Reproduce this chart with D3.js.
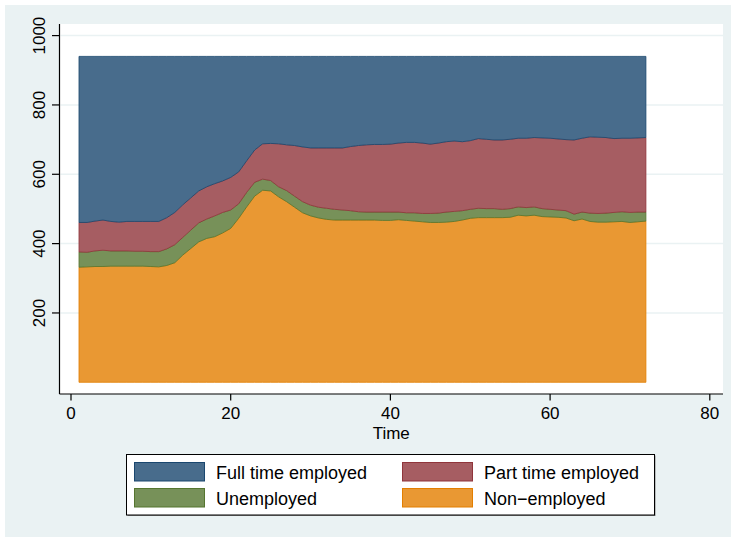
<!DOCTYPE html>
<html><head><meta charset="utf-8">
<script src="https://cdn.jsdelivr.net/npm/d3@7"></script>
<style>html,body{margin:0;padding:0;background:#fff;}svg{display:block;}</style>
</head><body>
<script>
// ---- data (people per state, by time) ----
const time = d3.range(1, 73);
const nonEmployed = [332,333,334,334,335,335,335,335,335,334,333,337,345,367,386,405,415,420,431,444,473,506,537,554,552,535,521,505,489,480,474,470,468,468,468,468,468,468,467,467,469,467,465,463,461,461,462,464,468,473,475,475,475,475,476,482,480,482,478,477,476,474,466,471,464,462,462,463,464,461,463,465];
const unemployed = [44,42,45,47,44,44,44,43,43,43,44,48,52,51,53,55,56,60,59,53,42,42,40,32,30,29,32,32,32,31,31,32,31,29,27,24,23,23,24,24,22,22,24,24,26,27,29,29,27,26,27,26,26,24,25,24,24,24,23,22,21,21,19,20,24,25,26,27,28,29,28,26];
const partTime = [85,86,86,87,85,83,85,86,86,87,87,90,93,94,93,92,93,93,91,94,92,91,93,102,107,124,132,146,158,165,171,174,177,179,185,191,194,195,195,196,199,203,203,203,200,202,203,203,199,198,201,200,198,200,200,198,200,200,204,205,205,205,214,213,220,220,218,213,212,214,214,215];
const fullTime = [479,479,475,472,476,478,476,476,476,476,476,465,450,428,408,388,376,367,359,349,333,301,270,252,251,252,255,257,261,264,264,264,264,264,260,257,255,254,254,253,250,248,248,250,253,250,246,244,246,243,237,239,241,241,239,236,236,234,235,236,238,240,241,236,232,233,234,237,236,236,235,234];
const seriesKeys = ["nonEmployed","unemployed","partTime","fullTime"];
const seriesLabels = {fullTime:"Full time employed", partTime:"Part time employed", unemployed:"Unemployed", nonEmployed:"Non\u2212employed"};
const legendOrder = ["fullTime","partTime","unemployed","nonEmployed"];
const yTicks = [200,400,600,800,1000];
const xTicks = [0,20,40,60,80];

// ---- styles ----
const lineColor = {fullTime:"#1a476f", partTime:"#90353b", unemployed:"#55752f", nonEmployed:"#e37e00"};
const fillColor = {fullTime:"#486c8c", partTime:"#a65d62", unemployed:"#779159", nonEmployed:"#e99833"};
const font = "'Liberation Sans', Arial, Helvetica, sans-serif";

const W = 733, H = 537;
const svg = d3.select("body").append("svg").attr("width", W).attr("height", H);
svg.append("rect").attr("x",5).attr("y",5).attr("width",726).attr("height",532).attr("fill","#eaf2f3");

const plot = {left:59.5, right:723, top:24, bottom:394};
svg.append("rect").attr("x",plot.left).attr("y",plot.top).attr("width",plot.right-plot.left).attr("height",plot.bottom-plot.top).attr("fill","#fff");

const x = d3.scaleLinear().domain([0,80]).range([71, 709.8]);
const y = d3.scaleLinear().domain([0,1000]).range([382.3, 35.6]);

// gridlines
svg.append("g").selectAll("line").data(yTicks).join("line")
  .attr("x1",plot.left+1).attr("x2",plot.right).attr("y1",d=>y(d)).attr("y2",d=>y(d))
  .attr("stroke","#eaf2f3").attr("stroke-width",1.5);

// stacked data
const rows = time.map((t,i)=>({t, nonEmployed:nonEmployed[i], unemployed:unemployed[i], partTime:partTime[i], fullTime:fullTime[i]}));
const stacked = d3.stack().keys(seriesKeys)(rows);
const area = d3.area().x(d=>x(d.data.t)).y0(d=>y(d[0])).y1(d=>y(d[1]));
svg.append("g").selectAll("path").data(stacked).join("path")
  .attr("d", area)
  .attr("fill", d=>fillColor[d.key])
  .attr("stroke", d=>lineColor[d.key]).attr("stroke-width",0.8).attr("stroke-linejoin","round");

// y axis
const yAxis = svg.append("g");
yAxis.append("line").attr("x1",plot.left).attr("x2",plot.left).attr("y1",plot.top).attr("y2",plot.bottom).attr("stroke","#000").attr("stroke-width",1.2);
yAxis.selectAll("line.tick").data(yTicks).join("line").attr("class","tick")
  .attr("x1",52).attr("x2",plot.left).attr("y1",d=>y(d)).attr("y2",d=>y(d)).attr("stroke","#000").attr("stroke-width",1.2);
yAxis.selectAll("text").data(yTicks).join("text")
  .attr("transform",d=>`translate(44.5,${y(d)}) rotate(-90)`)
  .attr("text-anchor","middle").attr("font-family",font).attr("font-size",17).attr("fill","#000")
  .text(d=>d);

// x axis
const xAxis = svg.append("g");
xAxis.append("line").attr("x1",plot.left).attr("x2",plot.right).attr("y1",plot.bottom).attr("y2",plot.bottom).attr("stroke","#000").attr("stroke-width",1.2);
xAxis.selectAll("line.tick").data(xTicks).join("line").attr("class","tick")
  .attr("x1",d=>x(d)).attr("x2",d=>x(d)).attr("y1",plot.bottom).attr("y2",400.5).attr("stroke","#000").attr("stroke-width",1.2);
xAxis.selectAll("text").data(xTicks).join("text")
  .attr("x",d=>x(d)).attr("y",418.5).attr("text-anchor","middle")
  .attr("font-family",font).attr("font-size",17).attr("fill","#000").text(d=>d);
svg.append("text").attr("x",(plot.left+plot.right)/2).attr("y",438.5).attr("text-anchor","middle")
  .attr("font-family",font).attr("font-size",17).attr("fill","#000").text("Time");

// legend
const lg = svg.append("g");
lg.append("rect").attr("x",127.5).attr("y",455.5).attr("width",528).attr("height",60.5).attr("fill","#888");
lg.append("rect").attr("x",126.5).attr("y",454.5).attr("width",528).attr("height",60.5).attr("fill","#fff").attr("stroke","#000").attr("stroke-width",1);
const colX = [134.5, 402.5], rowY = [462.5, 488.5];
const items = lg.selectAll("g.item").data(legendOrder).join("g").attr("class","item")
  .attr("transform",(d,i)=>`translate(${colX[i%2]},${rowY[Math.floor(i/2)]})`);
items.append("rect").attr("width",70).attr("height",18.5)
  .attr("fill",d=>fillColor[d]).attr("stroke",d=>lineColor[d]).attr("stroke-width",1);
items.append("text").attr("x",81.5).attr("y",16).attr("font-family",font).attr("font-size",18).attr("fill","#000")
  .text(d=>seriesLabels[d]);
</script>
</body></html>
